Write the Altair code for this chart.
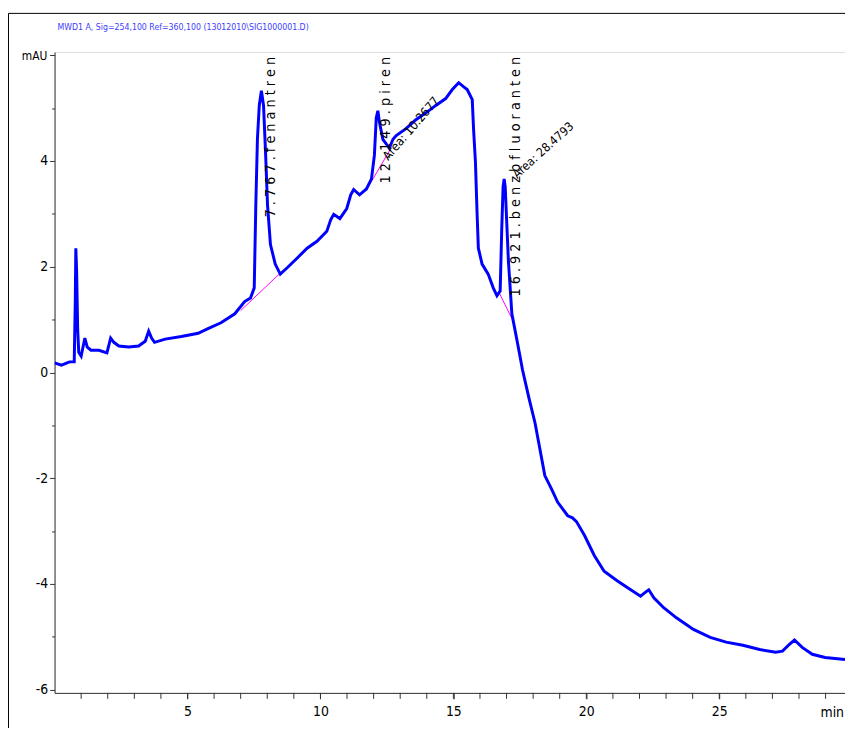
import altair as alt
import pandas as pd

# ---- chromatogram trace (time in min, signal in mAU) ----
time_min = [0.00, 0.26, 0.56, 0.74, 0.78, 0.80, 0.83, 0.87, 0.91, 1.00, 1.14, 1.23, 1.37, 1.67, 1.97,
            2.11, 2.23, 2.42, 2.79, 3.16, 3.41, 3.54, 3.65, 3.76, 4.16, 4.77, 5.40, 5.77, 6.26, 6.78,
            7.15, 7.37, 7.51, 7.57, 7.63, 7.70, 7.78, 7.86, 7.94, 8.01, 8.12, 8.30, 8.49, 8.75, 9.12,
            9.50, 9.87, 10.24, 10.39, 10.50, 10.73, 10.99, 11.14, 11.25, 11.47, 11.73, 11.92, 12.03,
            12.10, 12.16, 12.22, 12.35, 12.48, 12.59, 12.73, 12.85, 13.22, 13.59, 13.97, 14.34, 14.71,
            14.96, 15.20, 15.39, 15.52, 15.71, 15.76, 15.83, 15.89, 15.94, 16.08, 16.31, 16.50, 16.64,
            16.76, 16.82, 16.87, 16.91, 16.95, 16.99, 17.07, 17.20, 17.25, 17.43, 17.60, 17.85, 18.07,
            18.20, 18.44, 18.69, 18.92, 19.30, 19.48, 19.63, 19.93, 20.30, 20.67, 21.16, 21.67, 22.04,
            22.24, 22.35, 22.54, 22.91, 23.39, 24.03, 24.66, 25.26, 25.89, 26.52, 27.12, 27.38, 27.64,
            27.83, 28.12, 28.50, 28.98, 29.73]
signal_mau = [0.18, 0.14, 0.20, 0.20, 1.36, 2.35, 1.92, 0.80, 0.38, 0.31, 0.65, 0.48, 0.42, 0.42, 0.37,
              0.65, 0.57, 0.50, 0.48, 0.50, 0.59, 0.78, 0.65, 0.57, 0.63, 0.68, 0.74, 0.83, 0.94, 1.11,
              1.34, 1.41, 1.60, 3.17, 4.41, 5.05, 5.33, 5.05, 4.11, 3.17, 2.42, 2.05, 1.86, 1.98, 2.16,
              2.35, 2.48, 2.67, 2.89, 2.99, 2.91, 3.10, 3.36, 3.46, 3.36, 3.47, 3.66, 4.11,
              4.82, 4.95, 4.73, 4.41, 4.32, 4.24, 4.41, 4.48, 4.61, 4.78, 4.91, 5.05, 5.18,
              5.35, 5.48, 5.40, 5.35, 5.16, 4.60, 3.98, 3.04, 2.35, 2.05, 1.86, 1.60, 1.45,
              1.54, 2.72, 3.51, 3.66, 3.51, 3.04, 2.11, 1.11, 0.98, 0.51, 0.05, -0.50, -0.95,
              -1.30, -1.95, -2.20, -2.45, -2.71, -2.75, -2.82, -3.08, -3.46, -3.76, -3.94, -4.11, -4.23,
              -4.15, -4.11, -4.26, -4.45, -4.64, -4.86, -5.01, -5.10, -5.16, -5.24, -5.29, -5.27, -5.14,
              -5.06, -5.20, -5.33, -5.39, -5.43]

# ---- axis ticks ----
x_major = [5, 10, 15, 20, 25]
x_minor = list(range(1, 30))

# ---- integration baselines (start t, start y, end t, end y) ----
base_t1 = [7.00, 11.73, 16.69]
base_y1 = [1.17, 3.45, 1.54]
base_t2 = [8.45, 12.63, 17.25]
base_y2 = [1.86, 4.22, 0.97]

# ---- peak labels ----
peak_names = ["7.767 . fenantren", "12.149 . piren", "16.921 . benzb fluoranten"]
peak_label_t = [8.15, 12.48, 17.35]
peak_label_top = [5.97, 5.97, 5.97]

area_texts = ["Area: 10.2677", "Area: 28.4793"]
area_t = [12.55, 17.40]
area_v = [4.00, 3.66]
area_angles = [311, 318]

title_text = "MWD1 A, Sig=254,100 Ref=360,100 (13012010\\SIG1000001.D)"

FONT = "Liberation Sans Narrow, Arial Narrow, DejaVu Sans Condensed, sans-serif"
XDOM = [0, 29.73]
YDOM = [-6.06, 6.06]

xs = alt.Scale(domain=XDOM, nice=False, zero=False)
ys = alt.Scale(domain=YDOM, nice=False, zero=False)

trace = pd.DataFrame({"t": time_min, "v": signal_mau})

x_axis = alt.Axis(
    values=x_major, format="d",
    tickSize=6, tickColor="#333", domainColor="#333", labelFont=FONT, labelFontSize=14,
    labelColor="black", labelPadding=6, grid=False, title=None, labelFlush=False,
    labelOverlap=False,
)
y_axis = alt.Axis(
    values=[v / 2 for v in range(-12, 13)],
    labelExpr="(datum.value % 2 == 0 && datum.value < 6) ? toString(datum.value) : ''",
    tickSize={"condition": {"test": "datum.value % 2 == 0", "value": 5}, "value": 3},
    tickColor="#333", domainColor="#333", labelFont=FONT, labelFontSize=14,
    labelColor="black", labelPadding=2, grid=False, title=None, labelFlush=False,
    labelOverlap=False,
)

line = alt.Chart(trace).mark_line(color="#0000ff", strokeWidth=3, clip=True).encode(
    x=alt.X("t:Q", scale=xs, axis=x_axis, title=None),
    y=alt.Y("v:Q", scale=ys, axis=y_axis, title=None),
)

minor = alt.Chart(pd.DataFrame({"t": x_minor})).mark_rule(color="#333", strokeWidth=1).encode(
    x=alt.X("t:Q", title=None), y=alt.value(647), y2=alt.value(653)
)

bl = pd.DataFrame({"t": base_t1, "v": base_y1, "t2": base_t2, "v2": base_y2})
baselines = alt.Chart(bl).mark_rule(color="#ff00ff", strokeWidth=1).encode(
    x=alt.X("t:Q", title=None), y=alt.Y("v:Q", title=None), x2="t2:Q", y2="v2:Q"
)

pk = pd.DataFrame({"t": peak_label_t, "v": peak_label_top,
                   "label": [" ".join(n) for n in peak_names]})
peak_text = alt.Chart(pk).mark_text(
    angle=270, align="right", baseline="middle", font=FONT, fontSize=14.4, color="black"
).encode(x=alt.X("t:Q", title=None), y=alt.Y("v:Q", title=None), text="label:N")

area_layers = []
for txt, t, v, a, fs in zip(area_texts, area_t, area_v, area_angles, [12.5, 12.2]):
    d = pd.DataFrame({"t": [t], "v": [v], "label": [txt]})
    area_layers.append(
        alt.Chart(d).mark_text(angle=a, align="left", baseline="alphabetic", font=FONT,
                               fontSize=fs, color="black")
        .encode(x=alt.X("t:Q", title=None), y=alt.Y("v:Q", title=None), text="label:N")
    )

misc = pd.DataFrame({"t": [0.11, -0.27], "v": [6.53, 5.98],
                     "label": [title_text, "mAU"]})
title_mark = alt.Chart(misc.iloc[[0]]).mark_text(
    align="left", baseline="middle", font=FONT, fontSize=8.8, color="#3c3cff"
).encode(x=alt.X("t:Q", title=None), y=alt.Y("v:Q", title=None), text="label:N")
mau_mark = alt.Chart(misc.iloc[[1]]).mark_text(
    align="right", baseline="middle", font=FONT, fontSize=12, color="black"
).encode(x=alt.X("t:Q", title=None), y=alt.Y("v:Q", title=None), text="label:N")

unit = pd.DataFrame({"t": [29.73], "v": [-6.06], "label": ["min"]})
min_mark = alt.Chart(unit).mark_text(
    align="right", baseline="top", dy=13, dx=-1, font=FONT, fontSize=14, color="black"
).encode(x=alt.X("t:Q", title=None), y=alt.Y("v:Q", title=None), text="label:N")

dummy = pd.DataFrame({"k": [0]})
frame_left = alt.Chart(dummy).mark_rule(color="black", strokeWidth=1).encode(
    x=alt.value(-46.5), y=alt.value(-39), y2=alt.value(700))
frame_top = alt.Chart(dummy).mark_rule(color="black", strokeWidth=1).encode(
    x=alt.value(-46.5), x2=alt.value(820), y=alt.value(-39))

chart = alt.layer(
    frame_left, frame_top, baselines, line, minor, peak_text, *area_layers, title_mark,
    mau_mark, min_mark
).properties(
    width=798, height=647,
    padding={"left": 47, "top": 41, "right": 0, "bottom": 32},
    autosize=alt.AutoSizeParams(type="none"),
).configure_view(stroke=None).configure(background="white")

chart.save("out.html", embed_options={"renderer": "svg", "actions": False})
